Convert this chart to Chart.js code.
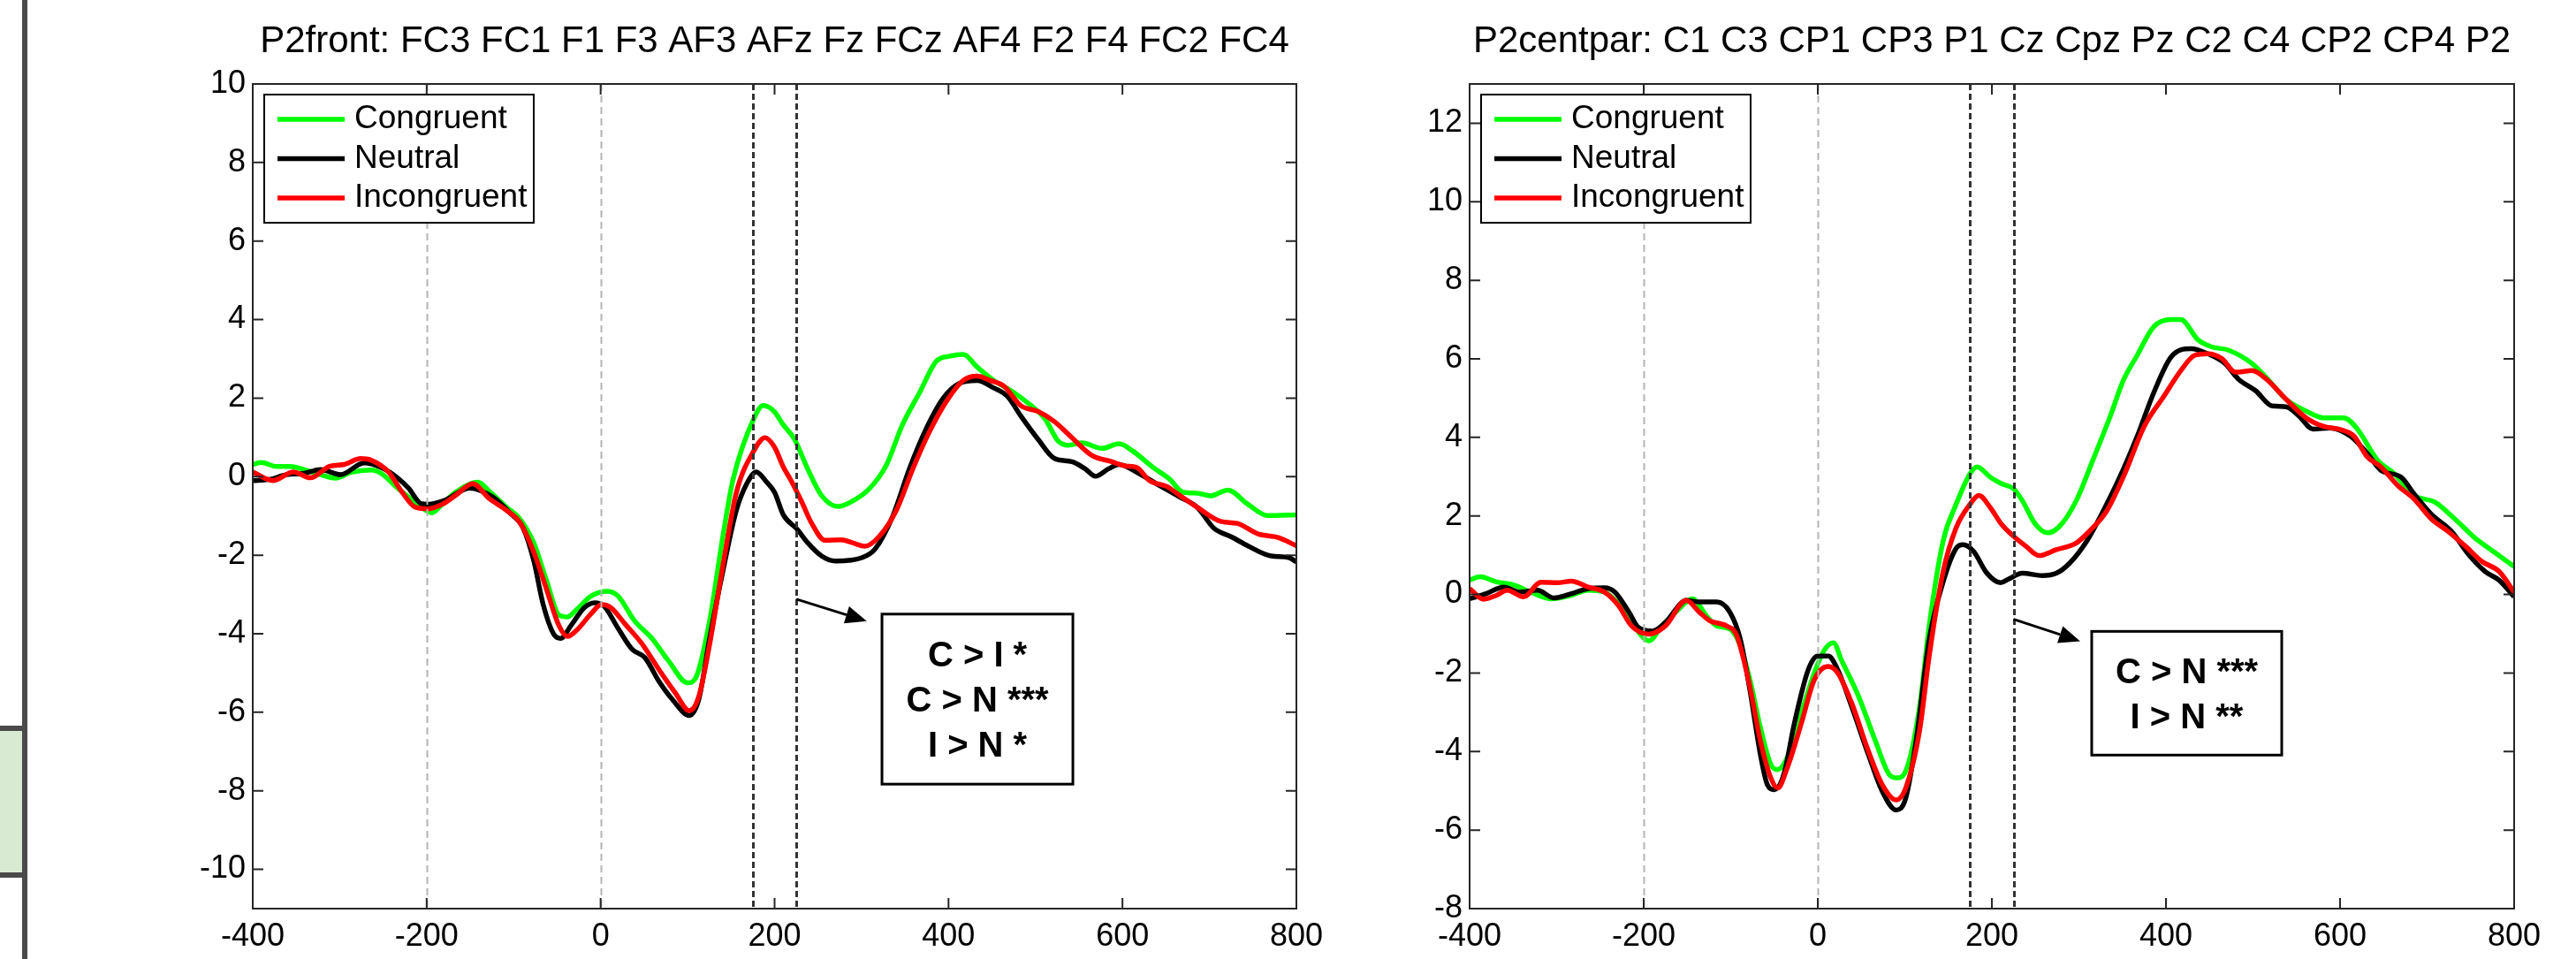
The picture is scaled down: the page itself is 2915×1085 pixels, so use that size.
<!DOCTYPE html>
<html>
<head>
<meta charset="utf-8">
<title>P2 ERP waveforms</title>
<script src="https://cdn.jsdelivr.net/npm/chart.js@4.4.1/dist/chart.umd.min.js"></script>
<style>
  html, body { margin: 0; padding: 0; background: #fff; }
  body { width: 2915px; height: 1085px; position: relative; overflow: hidden; }
  #frontChart { position: absolute; left: 0; top: 0; }
  #centChart { position: absolute; left: 1565px; top: 0; }
  .edge { position: absolute; left: 25px; top: 0; width: 6px; height: 1085px; background: #4a4a4a; }
  .tab { position: absolute; left: 0; top: 821px; width: 25px; height: 172px; box-sizing: border-box;
         background: #d9ead3; border-top: 6px solid #4a4a4a; border-bottom: 6px solid #4a4a4a; }
</style>
</head>
<body>
<div class="edge"></div>
<div class="tab"></div>
<canvas id="frontChart" width="1565" height="1085"></canvas>
<canvas id="centChart" width="1350" height="1085"></canvas>
<script>
// axis ticks
var timeTicks = [-400, -200, 0, 200, 400, 600, 800];
var frontAmpTicks = [-10, -8, -6, -4, -2, 0, 2, 4, 6, 8, 10];
var centAmpTicks = [-8, -6, -4, -2, 0, 2, 4, 6, 8, 10, 12];

var seriesNames = ['Congruent', 'Neutral', 'Incongruent'];
var seriesColors = ['#00ff00', '#000000', '#ff0000'];

// marker lines (ms)
var onsetLines = [-200, 0];
var windowLines = [175, 225];

var frontTitle = 'P2front: FC3 FC1 F1 F3 AF3 AFz Fz FCz AF4 F2 F4 FC2 FC4';
var centTitle = 'P2centpar: C1 C3 CP1 CP3 P1 Cz Cpz Pz C2 C4 CP2 CP4 P2';
var frontStats = ['C > I *', 'C > N ***', 'I > N *'];
var centStats = ['C > N ***', 'I > N **'];

// [time ms, amplitude uV]
var frontCongruent = [[-400,0.31],[-390,0.36],[-373,0.26],[-357,0.26],[-338,0.16],[-322,0.05],[-305,-0.04],[-287,0.11],[-264,0.17],[-252,0.08],[-237,-0.22],[-221,-0.52],[-206,-0.78],[-194,-0.92],[-182,-0.70],[-167,-0.40],[-141,-0.14],[-128,-0.37],[-108,-0.78],[-93,-1.07],[-77,-1.68],[-62,-2.66],[-48,-3.52],[-38,-3.57],[-27,-3.37],[-11,-3.04],[8,-2.92],[20,-3.04],[39,-3.67],[59,-4.12],[78,-4.69],[100,-5.25],[109,-5.14],[125,-3.71],[141,-1.46],[152,-0.10],[176,1.47],[187,1.81],[200,1.65],[210,1.32],[223,0.95],[238,0.20],[254,-0.48],[273,-0.76],[289,-0.63],[308,-0.33],[328,0.27],[347,1.32],[367,2.15],[386,2.94],[402,3.07],[417,3.11],[433,2.79],[452,2.45],[472,2.19],[495,1.81],[511,1.47],[526,0.91],[538,0.80],[553,0.86],[577,0.72],[596,0.84],[612,0.65],[635,0.24],[654,-0.06],[670,-0.40],[686,-0.42],[701,-0.49],[721,-0.34],[744,-0.70],[767,-0.99],[800,-0.97]];
var frontNeutral = [[-400,-0.10],[-381,-0.07],[-361,0.05],[-342,0.08],[-322,0.18],[-299,0.05],[-272,0.35],[-252,0.23],[-233,-0.04],[-221,-0.29],[-206,-0.69],[-198,-0.70],[-178,-0.59],[-151,-0.29],[-124,-0.52],[-104,-0.93],[-89,-1.31],[-77,-2.13],[-66,-3.26],[-54,-4.01],[-46,-4.12],[-34,-3.79],[-19,-3.34],[-7,-3.21],[4,-3.30],[20,-3.86],[36,-4.39],[51,-4.61],[67,-5.21],[82,-5.66],[102,-6.08],[113,-5.66],[125,-4.16],[141,-2.36],[156,-0.86],[168,-0.18],[179,0.12],[191,-0.14],[200,-0.40],[210,-0.97],[226,-1.34],[238,-1.68],[254,-2.02],[270,-2.15],[301,-2.06],[316,-1.83],[336,-1.00],[355,0.20],[375,1.25],[394,2.00],[413,2.38],[433,2.45],[452,2.26],[468,2.04],[483,1.55],[503,0.95],[522,0.46],[542,0.38],[557,0.20],[569,0.01],[584,0.20],[596,0.31],[616,0.12],[639,-0.18],[666,-0.52],[686,-0.78],[705,-1.31],[725,-1.53],[744,-1.76],[771,-2.02],[791,-2.06],[800,-2.17]];
var frontIncongruent = [[-400,0.12],[-377,-0.10],[-353,0.12],[-334,-0.03],[-311,0.27],[-295,0.31],[-276,0.46],[-264,0.42],[-244,0.12],[-229,-0.37],[-213,-0.78],[-198,-0.82],[-182,-0.70],[-167,-0.48],[-147,-0.18],[-128,-0.56],[-108,-0.86],[-93,-1.16],[-77,-1.91],[-62,-2.88],[-48,-3.79],[-38,-4.07],[-27,-3.90],[-11,-3.49],[1,-3.26],[12,-3.34],[28,-3.75],[47,-4.24],[67,-4.91],[86,-5.51],[102,-5.96],[113,-5.59],[125,-4.31],[141,-2.21],[156,-0.41],[176,0.65],[189,0.99],[200,0.75],[210,0.25],[219,-0.10],[231,-0.63],[242,-1.16],[258,-1.62],[277,-1.61],[289,-1.68],[304,-1.77],[320,-1.53],[340,-0.86],[359,0.20],[378,1.14],[398,1.93],[417,2.45],[433,2.56],[448,2.45],[464,2.30],[483,1.81],[503,1.66],[522,1.40],[542,0.99],[565,0.54],[588,0.38],[604,0.27],[616,0.24],[631,-0.10],[651,-0.25],[666,-0.48],[686,-0.78],[713,-1.14],[732,-1.19],[756,-1.46],[779,-1.55],[800,-1.76]];

var centCongruent = [[-400,0.37],[-388,0.45],[-369,0.32],[-349,0.24],[-330,0.06],[-307,-0.11],[-283,-0.02],[-264,0.11],[-245,0.06],[-229,-0.24],[-214,-0.71],[-194,-1.18],[-179,-0.80],[-163,-0.45],[-144,-0.11],[-128,-0.54],[-116,-0.80],[-101,-0.88],[-89,-1.31],[-78,-2.17],[-66,-3.38],[-54,-4.33],[-46,-4.46],[-35,-4.15],[-19,-3.03],[-4,-2.00],[8,-1.40],[18,-1.23],[27,-1.66],[47,-2.60],[66,-3.72],[82,-4.58],[91,-4.67],[101,-4.50],[117,-2.86],[128,-0.80],[144,1.36],[159,2.30],[175,3.08],[183,3.25],[198,2.99],[211,2.82],[225,2.69],[235,2.39],[250,1.79],[264,1.57],[278,1.74],[297,2.39],[316,3.42],[336,4.54],[351,5.45],[367,6.09],[386,6.82],[406,7.00],[417,7.00],[437,6.48],[452,6.31],[472,6.22],[499,5.88],[515,5.53],[538,4.97],[561,4.67],[581,4.50],[604,4.50],[619,4.24],[643,3.42],[662,3.08],[685,2.52],[709,2.35],[732,1.92],[755,1.44],[779,1.05],[800,0.71]];
var centNeutral = [[-400,-0.11],[-381,0.02],[-361,0.19],[-342,0.06],[-322,0.11],[-303,-0.09],[-283,0.02],[-264,0.15],[-245,0.17],[-233,0.06],[-217,-0.45],[-206,-0.84],[-190,-0.93],[-175,-0.71],[-151,-0.15],[-136,-0.19],[-116,-0.19],[-101,-0.45],[-89,-1.14],[-78,-2.43],[-66,-4.07],[-58,-4.84],[-50,-4.97],[-39,-4.58],[-27,-3.29],[-11,-1.92],[0,-1.57],[12,-1.57],[23,-1.92],[39,-2.86],[58,-4.07],[74,-5.01],[90,-5.49],[101,-5.19],[113,-3.72],[128,-1.14],[144,0.32],[159,1.18],[167,1.27],[179,1.10],[194,0.55],[210,0.30],[219,0.39],[235,0.54],[258,0.48],[274,0.54],[289,0.79],[309,1.36],[328,2.13],[347,2.99],[367,4.03],[386,5.14],[406,6.05],[429,6.26],[448,6.13],[468,5.88],[483,5.49],[503,5.19],[522,4.80],[538,4.78],[553,4.54],[569,4.21],[588,4.24],[612,4.03],[631,3.60],[647,3.16],[670,2.99],[685,2.56],[705,2.04],[728,1.61],[748,1.01],[767,0.58],[783,0.36],[800,-0.06]];
var centIncongruent = [[-400,0.15],[-384,-0.12],[-369,-0.02],[-357,0.11],[-338,-0.06],[-318,0.31],[-299,0.30],[-283,0.34],[-264,0.19],[-245,0.06],[-229,-0.28],[-214,-0.80],[-194,-1.01],[-175,-0.80],[-151,-0.15],[-136,-0.45],[-124,-0.67],[-105,-0.80],[-93,-1.05],[-78,-2.35],[-66,-3.72],[-54,-4.67],[-46,-4.93],[-35,-4.41],[-19,-3.29],[-4,-2.17],[12,-1.83],[23,-2.00],[39,-2.77],[58,-3.98],[74,-4.84],[90,-5.23],[101,-4.93],[117,-3.46],[128,-1.57],[144,0.58],[159,1.70],[175,2.30],[185,2.52],[198,2.22],[211,1.79],[225,1.48],[239,1.23],[254,0.99],[274,1.14],[297,1.31],[312,1.61],[332,2.13],[351,2.99],[375,4.28],[398,5.06],[417,5.70],[433,6.09],[448,6.13],[464,6.01],[480,5.66],[499,5.70],[515,5.49],[538,4.97],[561,4.50],[581,4.28],[600,4.20],[616,4.03],[631,3.51],[647,3.25],[666,2.78],[685,2.43],[705,1.92],[724,1.61],[744,1.23],[763,0.84],[783,0.58],[800,0.06]];

var FONT = '"Liberation Sans", Arial, Helvetica, sans-serif';

// MATLAB-like decorations: dashed markers, boxed frame with inward ticks,
// stats box with arrow, and legend inside the axes
var erpDecor = {
    id: 'erpDecor',
    afterDraw: function(chart, args, opts) {
        var ctx = chart.ctx;
        var a = chart.chartArea;
        var x = chart.scales.x;
        var y = chart.scales.y;

        ctx.save();
        ctx.beginPath();
        ctx.rect(a.left, a.top, a.right - a.left, a.bottom - a.top);
        ctx.clip();
        ctx.lineWidth = 2;
        ctx.strokeStyle = '#b4b4b4';
        ctx.setLineDash([8, 5]);
        onsetLines.forEach(function(t) {
            var px = Math.round(x.getPixelForValue(t)) + 0.5;
            ctx.beginPath(); ctx.moveTo(px, a.top); ctx.lineTo(px, a.bottom); ctx.stroke();
        });
        ctx.lineWidth = 3;
        ctx.strokeStyle = '#333333';
        ctx.setLineDash([7, 4]);
        windowLines.forEach(function(t) {
            var px = Math.round(x.getPixelForValue(t)) + 0.5;
            ctx.beginPath(); ctx.moveTo(px, a.top); ctx.lineTo(px, a.bottom); ctx.stroke();
        });
        ctx.restore();

        // frame + inward ticks
        ctx.save();
        ctx.strokeStyle = '#262626';
        ctx.lineWidth = 2;
        ctx.strokeRect(a.left, a.top, a.right - a.left, a.bottom - a.top);
        var tl = 12;
        ctx.beginPath();
        timeTicks.forEach(function(t) {
            var px = x.getPixelForValue(t);
            ctx.moveTo(px, a.bottom); ctx.lineTo(px, a.bottom - tl);
            ctx.moveTo(px, a.top); ctx.lineTo(px, a.top + tl);
        });
        opts.yTicks.forEach(function(v) {
            var py = y.getPixelForValue(v);
            ctx.moveTo(a.left, py); ctx.lineTo(a.left + tl, py);
            ctx.moveTo(a.right, py); ctx.lineTo(a.right - tl, py);
        });
        ctx.stroke();
        ctx.restore();

        // stats box
        var b = opts.statBox;
        var bx1 = x.getPixelForValue(b.t1), bx2 = x.getPixelForValue(b.t2);
        var by1 = y.getPixelForValue(b.v1), by2 = y.getPixelForValue(b.v2);
        ctx.save();
        ctx.fillStyle = '#fff';
        ctx.fillRect(bx1, by1, bx2 - bx1, by2 - by1);
        ctx.strokeStyle = '#000';
        ctx.lineWidth = 3;
        ctx.strokeRect(bx1, by1, bx2 - bx1, by2 - by1);
        ctx.fillStyle = '#000';
        ctx.font = 'bold 40px ' + FONT;
        ctx.textAlign = 'center';
        ctx.textBaseline = 'middle';
        opts.stats.forEach(function(s, i) {
            ctx.fillText(s, (bx1 + bx2) / 2, by1 + 48 + i * 51);
        });

        // arrow
        var ar = opts.arrow;
        var ax1 = x.getPixelForValue(ar.t1), ay1 = y.getPixelForValue(ar.v1);
        var ax2 = x.getPixelForValue(ar.t2), ay2 = y.getPixelForValue(ar.v2);
        var ang = Math.atan2(ay2 - ay1, ax2 - ax1);
        var hl = 24, hw = 10;
        ctx.strokeStyle = '#000';
        ctx.lineWidth = 3;
        ctx.beginPath();
        ctx.moveTo(ax1, ay1);
        ctx.lineTo(ax2 - hl * Math.cos(ang), ay2 - hl * Math.sin(ang));
        ctx.stroke();
        ctx.beginPath();
        ctx.moveTo(ax2, ay2);
        ctx.lineTo(ax2 - hl * Math.cos(ang) + hw * Math.sin(ang), ay2 - hl * Math.sin(ang) - hw * Math.cos(ang));
        ctx.lineTo(ax2 - hl * Math.cos(ang) - hw * Math.sin(ang), ay2 - hl * Math.sin(ang) + hw * Math.cos(ang));
        ctx.closePath();
        ctx.fill();
        ctx.restore();

        // legend
        var lx = a.left + 13, ly = a.top + 12, lw = 305, lh = 145;
        ctx.save();
        ctx.fillStyle = '#fff';
        ctx.fillRect(lx, ly, lw, lh);
        ctx.strokeStyle = '#000';
        ctx.lineWidth = 2;
        ctx.strokeRect(lx, ly, lw, lh);
        ctx.font = '37px ' + FONT;
        ctx.textAlign = 'left';
        ctx.textBaseline = 'middle';
        seriesNames.forEach(function(name, i) {
            var rowY = ly + 28 + i * 44.5;
            ctx.strokeStyle = seriesColors[i];
            ctx.lineWidth = 5.5;
            ctx.beginPath();
            ctx.moveTo(lx + 15, rowY); ctx.lineTo(lx + 91, rowY);
            ctx.stroke();
            ctx.fillStyle = '#000';
            ctx.fillText(name, lx + 102, rowY);
        });
        ctx.restore();
    }
};

function toPoints(arr) {
    return arr.map(function(p) { return { x: p[0], y: p[1] }; });
}

function makeChart(canvasId, title, series, yMin, yMax, yTicks, yWidth, rightPad, stats, statBox, arrow) {
    var datasets = series.map(function(s, i) {
        return {
            label: seriesNames[i],
            data: toPoints(s),
            borderColor: seriesColors[i],
            backgroundColor: seriesColors[i],
            borderWidth: 5.5,
            pointRadius: 0,
            cubicInterpolationMode: 'monotone',
            fill: false,
            order: 3 - i
        };
    });

    var ctx = document.getElementById(canvasId).getContext('2d');
    return new Chart(ctx, {
        type: 'line',
        data: { datasets: datasets },
        options: {
            responsive: false,
            animation: false,
            events: [],
            layout: { padding: { left: 0, right: rightPad, top: 0, bottom: 0 } },
            plugins: {
                legend: { display: false },
                tooltip: { enabled: false },
                title: {
                    display: true,
                    text: title,
                    fullSize: false,
                    color: '#000',
                    font: { family: FONT, size: 42, weight: 'normal', lineHeight: 1.2 },
                    padding: { top: 22, bottom: 22.6 }
                },
                erpDecor: { yTicks: yTicks, stats: stats, statBox: statBox, arrow: arrow }
            },
            scales: {
                x: {
                    type: 'linear',
                    min: -400,
                    max: 800,
                    grid: { display: false, drawTicks: false },
                    border: { display: false },
                    ticks: { color: '#000', font: { family: FONT, size: 36 }, padding: 10, maxRotation: 0, autoSkip: false },
                    afterBuildTicks: function(scale) {
                        scale.ticks = timeTicks.map(function(v) { return { value: v }; });
                    },
                    afterFit: function(scale) { scale.height = 57; }
                },
                y: {
                    type: 'linear',
                    min: yMin,
                    max: yMax,
                    grid: { display: false, drawTicks: false },
                    border: { display: false },
                    ticks: { color: '#000', font: { family: FONT, size: 36 }, padding: 8, autoSkip: false },
                    afterBuildTicks: function(scale) {
                        scale.ticks = yTicks.map(function(v) { return { value: v }; });
                    },
                    afterFit: function(scale) { scale.width = yWidth; }
                }
            }
        },
        plugins: [erpDecor]
    });
}

document.addEventListener('DOMContentLoaded', function() {
    makeChart('frontChart', frontTitle,
        [frontCongruent, frontNeutral, frontIncongruent],
        -11, 10, frontAmpTicks, 286, 98, frontStats,
        { t1: 323.5, t2: 543, v1: -3.5, v2: -7.83 },
        { t1: 225, v1: -3.12, t2: 306, v2: -3.68 });

    makeChart('centChart', centTitle,
        [centCongruent, centNeutral, centIncongruent],
        -8, 13, centAmpTicks, 98, 70, centStats,
        { t1: 314.7, t2: 533, v1: -0.94, v2: -4.09 },
        { t1: 225, v1: -0.63, t2: 301.5, v2: -1.19 });
});
</script>
</body>
</html>
